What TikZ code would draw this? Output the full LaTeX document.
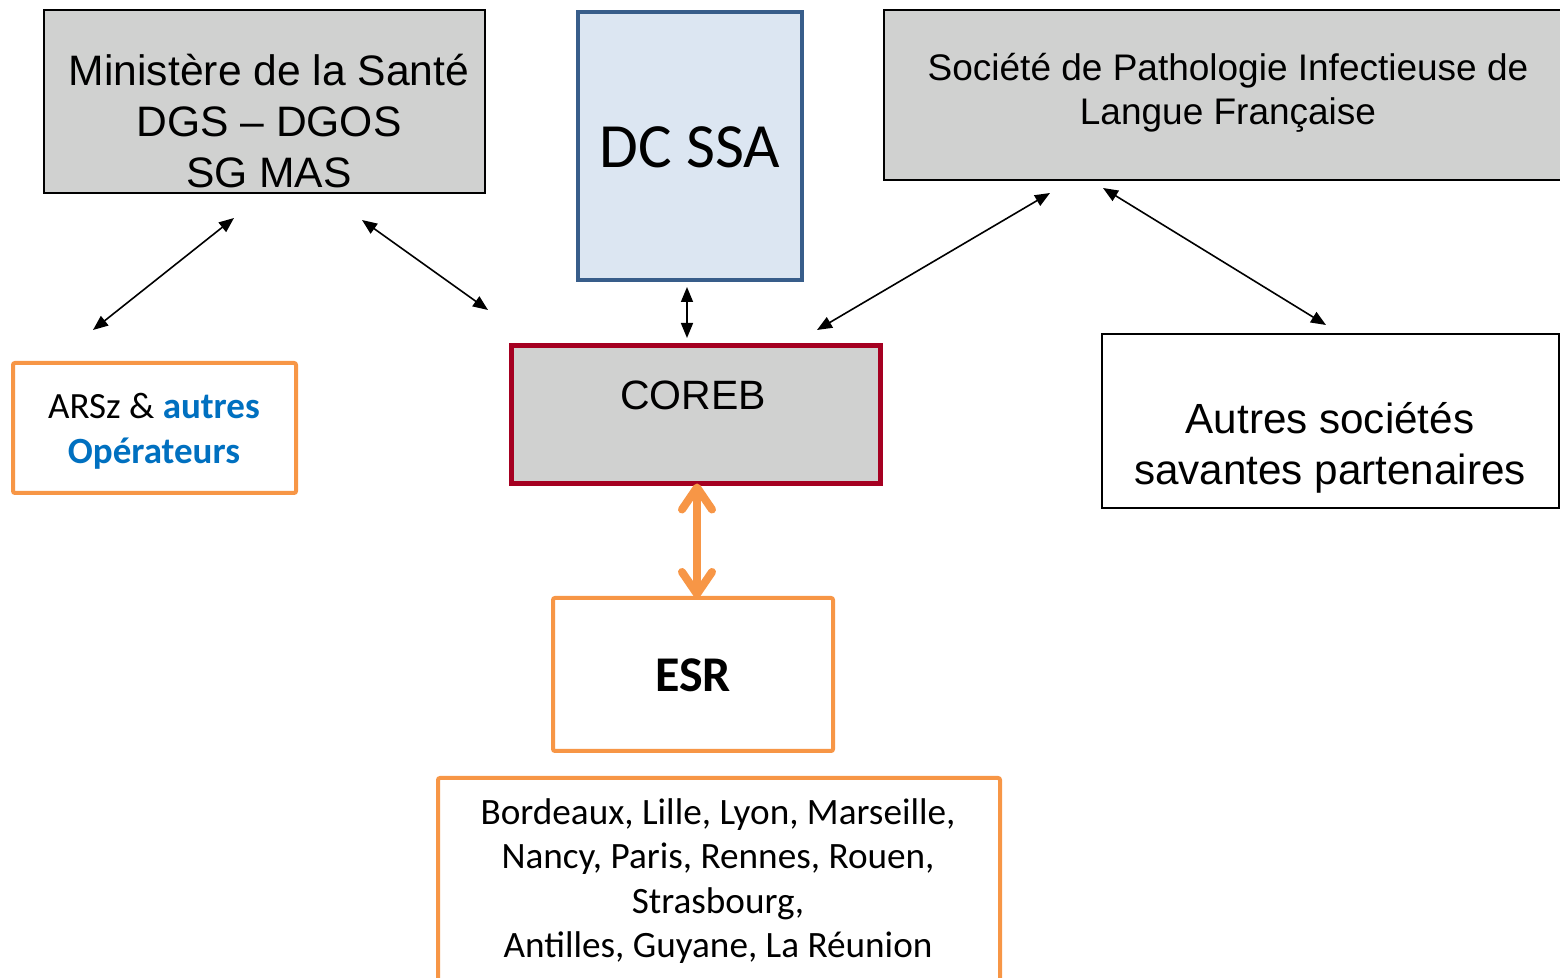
\documentclass[tikz,border=0pt]{standalone}
\usepackage{fontspec}
\setmainfont{Liberation Sans}
\newfontfamily\calib{Carlito}
\usetikzlibrary{arrows.meta}
\definecolor{boxgray}{RGB}{208,209,208}
\definecolor{dcfill}{RGB}{220,230,242}
\definecolor{dcline}{RGB}{56,93,138}
\definecolor{corebred}{RGB}{165,0,33}
\definecolor{orng}{RGB}{247,150,70}
\definecolor{blu}{RGB}{0,112,192}
\begin{document}
\begin{tikzpicture}[x=0.5pt,y=-0.5pt,
  boxnode/.style={draw, rectangle, inner sep=0pt, outer sep=0pt},
  graybox/.style={boxnode, fill=boxgray, line width=0.75pt},
  orangebox/.style={boxnode, draw=orng, fill=white, line width=2pt, rounded corners=1pt},
  txt/.style={inner sep=0pt, outer sep=0pt, align=center},
  link/.style={line width=0.8pt, {Triangle[length=7.5pt,width=6pt]}-{Triangle[length=7.5pt,width=6pt]}},
  biglink/.style={draw=orng, line width=4pt, line cap=round, {Straight Barb[length=11pt,width=15pt,round]}-{Straight Barb[length=11pt,width=15pt,round]}}
]
\useasboundingbox (0,0) rectangle (1560,978);

% boxes
\node[graybox, minimum width=220.5pt, minimum height=91.5pt] (min) at (264.5,101.5) {};
\node[txt, anchor=north, font=\fontsize{21.3}{25.5}\selectfont] (minT) at (269,43) {\rule{0pt}{21.3pt}Ministère de la Santé\\DGS – DGOS\\SG MAS};

\node[boxnode, draw=dcline, fill=dcfill, line width=2pt, minimum width=112pt, minimum height=134pt] (dc) at (690,146) {};
\node[txt, anchor=base, font=\calib\fontsize{31.5}{38}\selectfont] (dcT) at (690,168) {DC SSA};

\node[graybox, minimum width=339pt, minimum height=85pt] (spi) at (1223,95) {};
\node[txt, anchor=north, font=\fontsize{18.5}{22}\selectfont] (spiT) at (1228,44) {\rule{0pt}{18.5pt}Société de Pathologie Infectieuse de\\Langue Française};

\node[orangebox, minimum width=141.5pt, minimum height=65pt] (ars) at (154.5,428) {};
\node[txt, anchor=north, font=\calib\fontsize{18.5}{22.5}\selectfont] (arsT) at (154,382) {\rule{0pt}{18.5pt}ARSz \& \textcolor{blu}{\bfseries autres}\\\textcolor{blu}{\bfseries Opérateurs}};

\node[boxnode, draw=corebred, fill=boxgray, line width=2.5pt, minimum width=184.5pt, minimum height=69pt] (coreb) at (696,414.5) {};
\node[txt, anchor=base, font=\fontsize{20.5}{24}\selectfont] (corebT) at (693,410) {COREB};

\node[orangebox, minimum width=140pt, minimum height=76.5pt] (esr) at (693,674.5) {};
\node[txt, anchor=base, font=\calib\bfseries\fontsize{25}{30}\selectfont] (esrT) at (693,692) {ESR};

\node[orangebox, minimum width=281pt, minimum height=106pt] (city) at (719,884) {};
\node[txt, anchor=north, font=\calib\fontsize{18.6}{22.25}\selectfont] (cityT) at (718,787) {\rule{0pt}{18.6pt}Bordeaux, Lille, Lyon, Marseille,\\Nancy, Paris, Rennes, Rouen,\\Strasbourg,\\Antilles, Guyane, La Réunion};

\node[boxnode, fill=white, line width=0.75pt, minimum width=228.5pt, minimum height=87pt] (aut) at (1330.5,421) {};
\node[txt, anchor=north, font=\fontsize{21.1}{25.5}\selectfont] (autT) at (1330,391) {\rule{0pt}{21.1pt}Autres sociétés\\savantes partenaires};

% connector ends
\coordinate (a1) at (234,218); \coordinate (a2) at (93,330);
\coordinate (b1) at (362,220); \coordinate (b2) at (488,310);
\coordinate (c1) at (687,287); \coordinate (c2) at (687,338);
\coordinate (d1) at (1050,193); \coordinate (d2) at (817,330);
\coordinate (e1) at (1103,188); \coordinate (e2) at (1326,325);
\coordinate (fx) at (697,0);

\draw[link] (a1) -- (a2);
\draw[link] (b1) -- (b2);
\draw[link] (c1) -- (c2);
\draw[link] (d1) -- (d2);
\draw[link] (e1) -- (e2);
\draw[biglink] (coreb.south -| fx) -- (esr.north -| fx);
\end{tikzpicture}
\end{document}
